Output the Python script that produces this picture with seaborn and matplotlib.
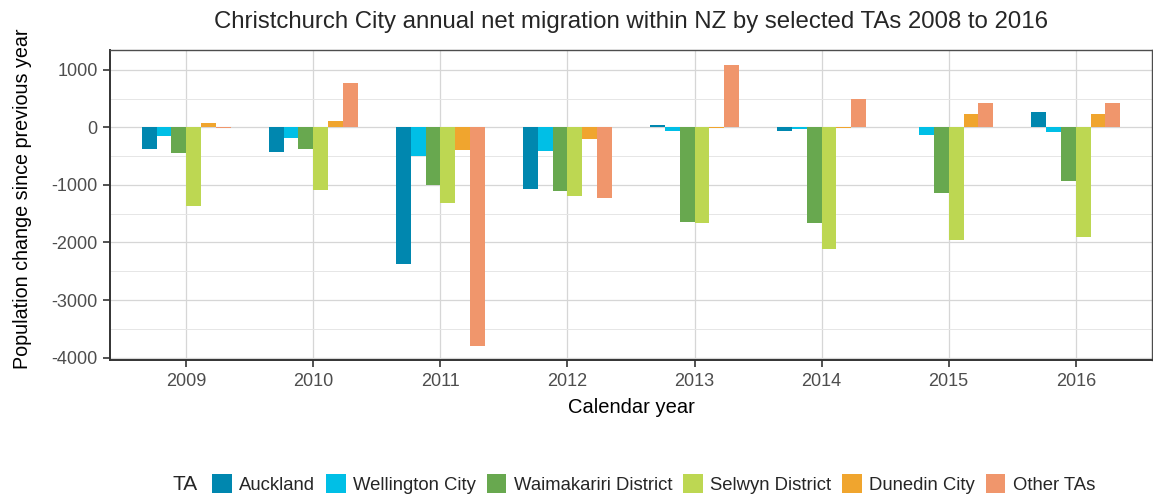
import matplotlib
matplotlib.use("Agg")
import matplotlib.pyplot as plt
import seaborn as sns
import pandas as pd
from matplotlib.patches import Patch

years = ["2009", "2010", "2011", "2012", "2013", "2014", "2015", "2016"]
tas = ["Auckland", "Wellington City", "Waimakariri District",
       "Selwyn District", "Dunedin City", "Other TAs"]

auckland = [-370, -434, -2370, -1075, 40, -69, 10, 272]
wellington = [-156, -190, -491, -405, -64, -35, -133, -87]
waimakariri = [-450, -370, -1000, -1110, -1636, -1653, -1145, -925]
selwyn = [-1358, -1081, -1306, -1197, -1665, -2116, -1960, -1913]
dunedin = [75, 104, -387, -208, -17, -10, 231, 231]
other = [-10, 769, -3798, -1220, 1092, 497, 428, 416]

colors = ["#0087AF", "#00BFE6", "#68A84F", "#BDD752", "#F0A52E", "#F0966C"]

# long format table for seaborn
values = [auckland, wellington, waimakariri, selwyn, dunedin, other]
rows = []
for ta, vals in zip(tas, values):
    for yr, v in zip(years, vals):
        rows.append({"year": yr, "TA": ta, "change": v})
df = pd.DataFrame(rows)

sns.set_style("white")
plt.rcParams["font.family"] = ["Liberation Sans", "DejaVu Sans"]
plt.rcParams["axes.unicode_minus"] = False

fig = plt.figure(figsize=(11.53, 4.98), dpi=100)
ax = fig.add_axes([110 / 1153, 1 - 360 / 498, (1152 - 110) / 1153, 310 / 498])

sns.barplot(data=df, x="year", y="change", hue="TA", hue_order=tas,
            palette=colors, width=0.7, saturation=1, ax=ax, zorder=3,
            linewidth=0, legend=False)

ax.set_xlim(-0.6, 7.6)
ax.set_ylim(-4042, 1345)
ax.set_yticks([-4000, -3000, -2000, -1000, 0, 1000])
ax.set_yticks([-3500, -2500, -1500, -500, 500], minor=True)
ax.grid(True, which="major", color="#D6D6D6", linewidth=0.9, zorder=0)
ax.grid(True, which="minor", axis="y", color="#E6E6E6", linewidth=0.7, zorder=0)
ax.set_axisbelow(True)

for s in ax.spines.values():
    s.set_color("#4D4D4D")
    s.set_linewidth(1.0)
ax.spines["left"].set_color("#333333")
ax.spines["bottom"].set_color("#333333")
ax.spines["left"].set_linewidth(1.4)
ax.spines["bottom"].set_linewidth(1.4)

ax.tick_params(axis="both", which="major", length=5, width=1.2, color="#333333",
               labelsize=13, labelcolor="#4D4D4D", direction="out",
               bottom=True, left=True, pad=4)
ax.tick_params(axis="y", which="minor", length=0)

ax.set_xlabel("Calendar year", fontsize=14.5, color="black", labelpad=6)
ax.set_ylabel("Population change since previous year", fontsize=14.2,
              color="black")
ax.yaxis.set_label_coords(-0.075, 0.52)
ax.set_title("Christchurch City annual net migration within NZ by selected TAs 2008 to 2016",
             fontsize=17.3, pad=16)

handles = [Patch(facecolor=c, edgecolor="none") for c in colors]
fig.text(172 / 1153, 1 - 484 / 498, "TA", fontsize=15, va="center", ha="left")
fig.legend(handles, tas, loc="center left", ncol=6, frameon=False,
           bbox_to_anchor=(205 / 1153, 1 - 484 / 498), fontsize=13.3,
           handlelength=1.05, handleheight=1.2, handletextpad=0.4,
           columnspacing=0.6, borderaxespad=0)

fig.savefig("out.png", dpi=100)
